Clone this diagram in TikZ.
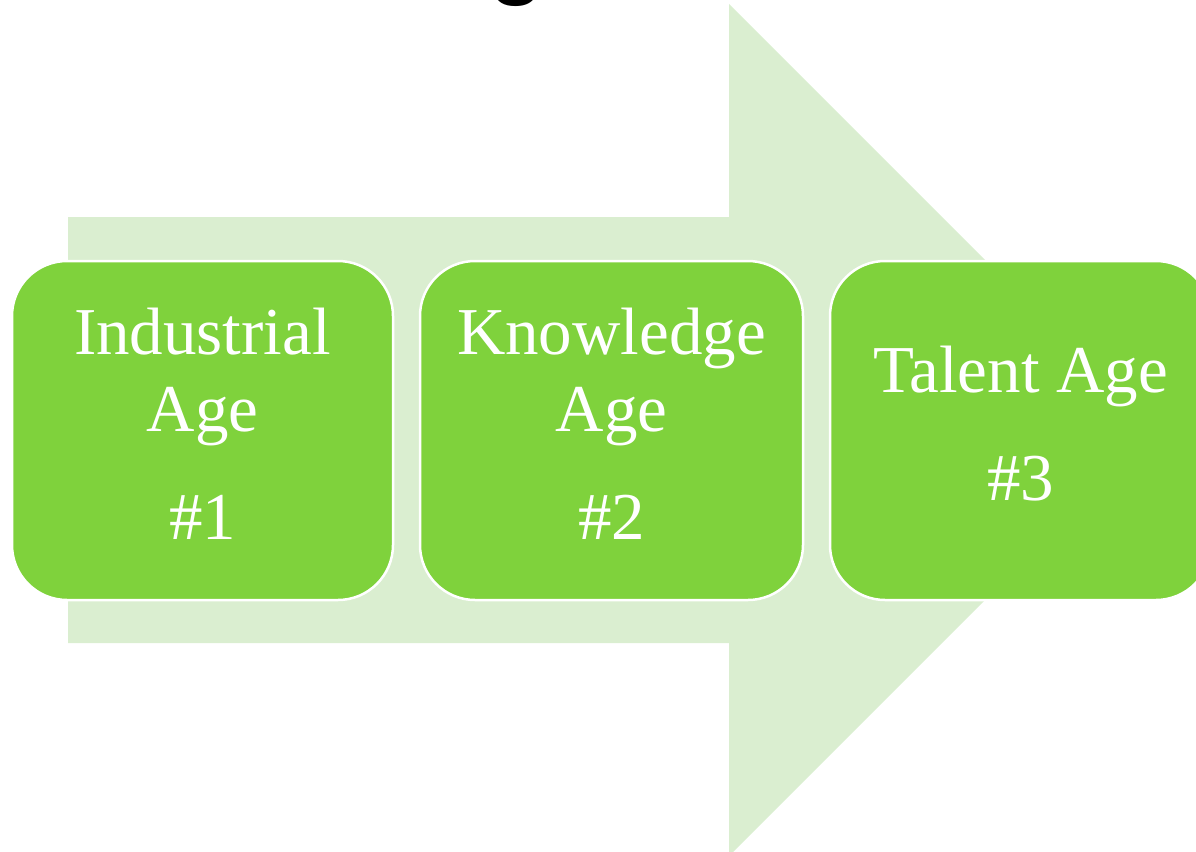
\documentclass[tikz,border=0pt]{standalone}
\usepackage{fontspec}
\setmainfont{Liberation Serif}
\newfontfamily\titlefont{Liberation Sans}
\definecolor{arrowfill}{HTML}{DAEED0}
\definecolor{boxfill}{HTML}{7FD23C}
\begin{document}
\begin{tikzpicture}[x=1pt,y=-1pt,
  agebox/.style={draw=white, line width=2.5pt, fill=boxfill, rounded corners=55pt,
    minimum width=381pt, minimum height=339pt, inner sep=0pt},
  agetext/.style={text=white, align=center, font=\fontsize{67}{77}\selectfont, inner sep=0pt}]
\useasboundingbox (0,0) rectangle (1196,851);
\clip (0,0) rectangle (1196,851);
% cut-off title
\node[anchor=base, font=\titlefont\bfseries\fontsize{90}{100}\selectfont, inner sep=0pt] (title) at (517,-12) {g};
% big arrow
\fill[arrowfill] (68,217) -- (729,217) -- (729,4) -- (1155,430) -- (729,856) -- (729,643) -- (68,643) -- cycle;
% boxes
\node[agebox] (b1) at (202.5,430.5) {};
\node[agebox, minimum width=383pt] (b2) at (611.5,430.5) {};
\node[agebox] (b3) at (1020.5,430.5) {};
\node[agetext] (t1) at ([yshift=7pt]b1.center) {Industrial\\Age\\[31pt]\#1};
\node[agetext] (t2) at ([yshift=7pt]b2.center) {Knowledge\\Age\\[31pt]\#2};
\node[agetext] (t3) at ([yshift=7pt]b3.center) {Talent Age\\[31pt]\#3};
\end{tikzpicture}
\end{document}
